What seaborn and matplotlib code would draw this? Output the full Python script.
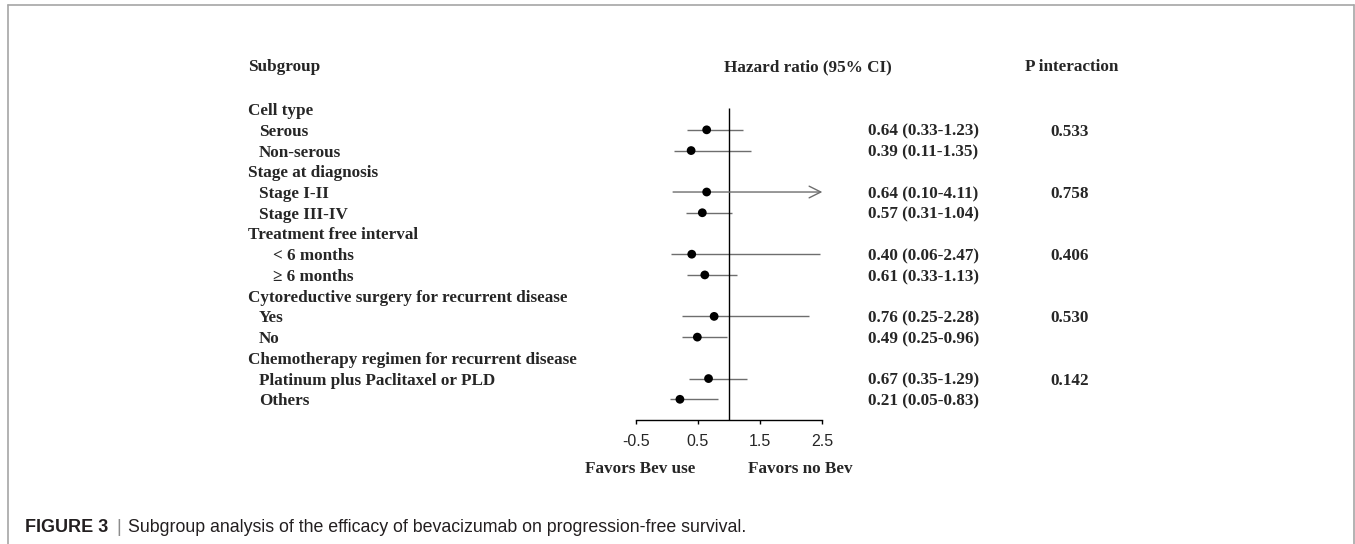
import numpy as np
import matplotlib
matplotlib.use("Agg")
import matplotlib.pyplot as plt
import matplotlib.transforms as mtransforms
from matplotlib.lines import Line2D
import seaborn as sns
import pandas as pd

# forest plot data
groups = ["Cell type", "Stage at diagnosis", "Treatment free interval",
          "Cytoreductive surgery for recurrent disease",
          "Chemotherapy regimen for recurrent disease"]
subgroups = [["Serous", "Non-serous"],
             ["Stage I-II", "Stage III-IV"],
             ["< 6 months", "\u2265 6 months"],
             ["Yes", "No"],
             ["Platinum plus Paclitaxel or PLD", "Others"]]
hr = [[0.64, 0.39], [0.64, 0.57], [0.40, 0.61], [0.76, 0.49], [0.67, 0.21]]
ci_low = [[0.33, 0.11], [0.10, 0.31], [0.06, 0.33], [0.25, 0.25], [0.35, 0.05]]
ci_high = [[1.23, 1.35], [4.11, 1.04], [2.47, 1.13], [2.28, 0.96], [1.29, 0.83]]
p_interaction = ["0.533", "0.758", "0.406", "0.530", "0.142"]
xticks = [-0.5, 0.5, 1.5, 2.5]

# build a row table: one header row per group, then its subgroups
rows = []
for g, name in enumerate(groups):
    rows.append(dict(label=name, kind="group", hr=np.nan, lo=np.nan, hi=np.nan, p=""))
    for k, sub in enumerate(subgroups[g]):
        rows.append(dict(label=sub, kind="sub", hr=hr[g][k], lo=ci_low[g][k],
                         hi=ci_high[g][k], p=p_interaction[g] if k == 0 else ""))
df = pd.DataFrame(rows)
df["row"] = np.arange(len(df))
est = df[df["kind"] == "sub"]

sns.set_theme(style="white")
plt.rcParams["font.family"] = ["Liberation Serif", "DejaVu Serif"]
serif = dict(family=["Liberation Serif", "DejaVu Serif"], weight="bold", size=12.3)

fig = plt.figure(figsize=(13.55, 5.44), dpi=100)
ax = fig.add_axes([0.4692, 0.2279, 0.1377, 0.6668])

xmax = xticks[-1]
grey = "#6e6e6e"
for _, r in est.iterrows():
    if r["hi"] > xmax:
        ax.annotate("", xy=(xmax, r["row"]), xytext=(r["lo"], r["row"]),
                    arrowprops=dict(arrowstyle="->,head_length=0.7,head_width=0.35",
                                    color=grey, lw=1.0, shrinkA=0, shrinkB=0),
                    annotation_clip=False)
    else:
        ax.hlines(r["row"], r["lo"], r["hi"], color=grey, lw=1.0)

sns.scatterplot(data=est, x="hr", y="row", color="black", s=40,
                edgecolor="none", ax=ax, zorder=3, clip_on=False)

# line of no effect
ax.vlines(1.0, -0.05, len(df), color="black", lw=1.0)

ax.set_xlim(xticks[0], xticks[-1])
ax.set_ylim(len(df), -2.5)
ax.set_xticks(xticks)
ax.set_xticklabels([f"{t:g}" for t in xticks], family="Liberation Sans", size=11.5)
ax.set_yticks([])
ax.set_xlabel("")
ax.set_ylabel("")
for s in ["left", "top", "right"]:
    ax.spines[s].set_visible(False)
ax.spines["bottom"].set_color("black")
ax.spines["bottom"].set_linewidth(1.0)
ax.tick_params(axis="x", direction="out", length=3, width=1.0, color="black",
               bottom=True, pad=7)
ax.patch.set_alpha(0)

# text columns: x in figure fraction, y in data rows
trans = mtransforms.blended_transform_factory(fig.transFigure, ax.transData)
va = "center_baseline"
head_y = -2.13
ax.text(0.183, head_y, "Subgroup", transform=trans, va=va, **serif)
ax.text(0.534, head_y, "Hazard ratio (95% CI)", transform=trans, va=va, **serif)
ax.text(0.7565, head_y, "P interaction", transform=trans, va=va, **serif)

indent_x = {"group": 0.183, "sub": 0.191}
for gi, r in df.iterrows():
    x0 = indent_x[r["kind"]]
    if r["label"].startswith(("<", "\u2265")):
        x0 = 0.2015
    ax.text(x0, r["row"], r["label"], transform=trans, va=va, **serif)
    if r["kind"] == "sub":
        ax.text(0.6406, r["row"], f"{r['hr']:.2f} ({r['lo']:.2f}-{r['hi']:.2f})",
                transform=trans, va=va, **serif)
        if r["p"]:
            ax.text(0.775, r["row"], r["p"], transform=trans, va=va, **serif)

ax.text(-0.43, 17.27, "Favors Bev use", ha="center", va=va, clip_on=False, **serif)
ax.text(2.14, 17.27, "Favors no Bev", ha="center", va=va, clip_on=False, **serif)

# frame around the figure panel
frame = "#a6a6a6"
for xs, ys in [([0.0059, 0.0059], [0, 0.9908]), ([0.9989, 0.9989], [0, 0.9908]),
               ([0.0059, 0.9989], [0.9908, 0.9908])]:
    fig.add_artist(Line2D(xs, ys, transform=fig.transFigure, color=frame, lw=1.2))

# caption
cap_y = 1 - 527 / 544
fig.text(25 / 1355, cap_y, "FIGURE 3", family="Liberation Sans", weight="bold",
         size=13, va="center", color="#231f20")
fig.text(116 / 1355, cap_y, "|", family="Liberation Sans", size=13, va="center",
         color="#8c8c8c")
fig.text(128 / 1355, cap_y,
         "Subgroup analysis of the efficacy of bevacizumab on progression-free survival.",
         family="Liberation Sans", size=12.8, va="center", color="#231f20")

fig.savefig("out.png", dpi=100, facecolor="white")
